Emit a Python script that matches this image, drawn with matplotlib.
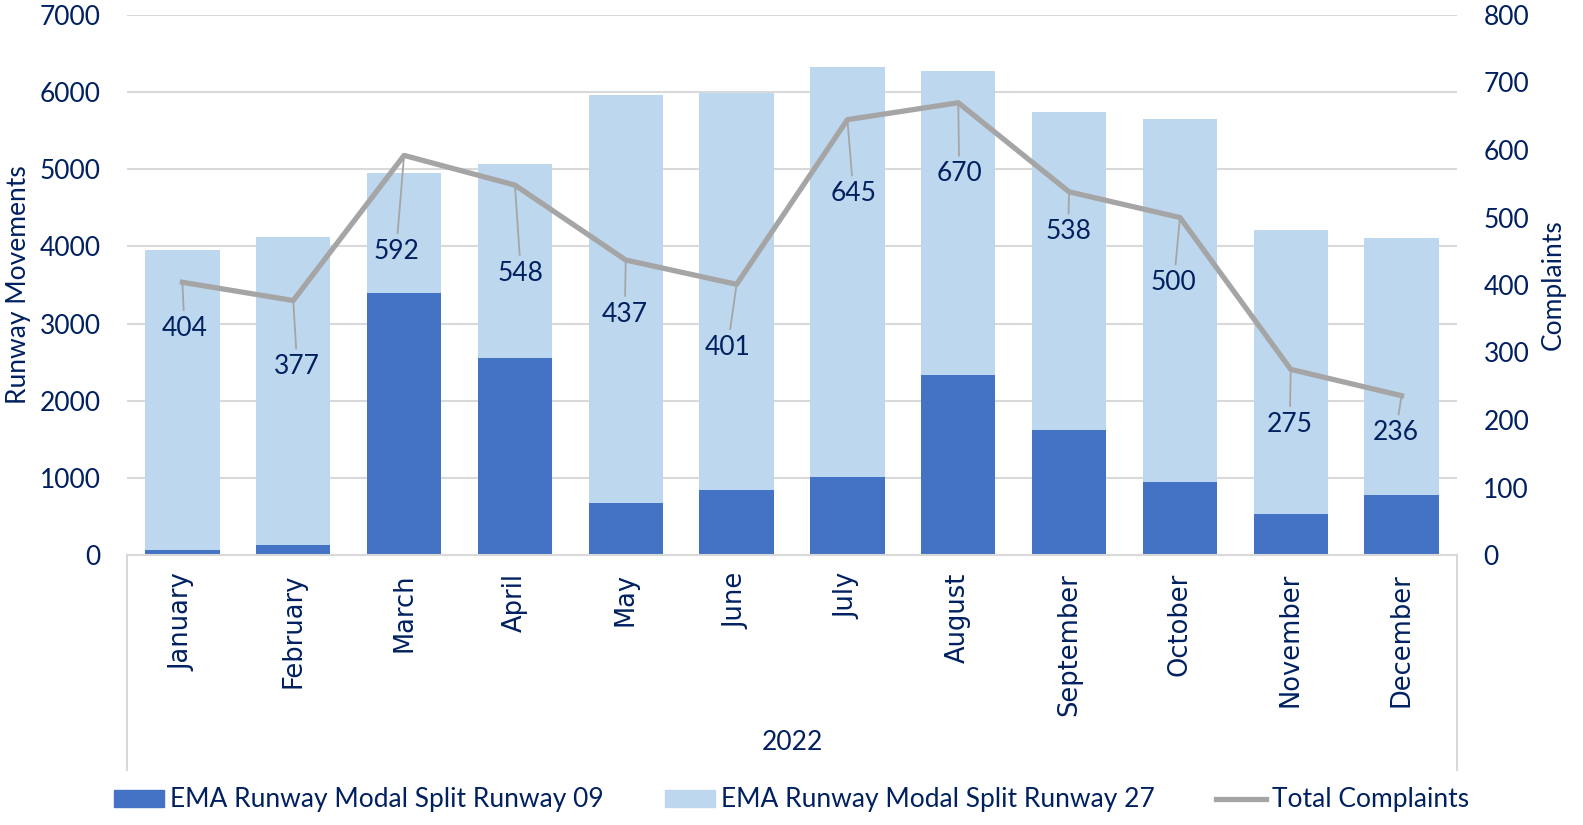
import matplotlib
matplotlib.use("Agg")
import matplotlib.pyplot as plt
import numpy as np
from matplotlib.patches import Patch
from matplotlib.lines import Line2D

# data
months = ["January", "February", "March", "April", "May", "June",
          "July", "August", "September", "October", "November", "December"]
runway_09 = [60, 135, 3395, 2555, 675, 845, 1010, 2335, 1625, 950, 535, 780]
runway_27 = [3895, 3990, 1555, 2510, 5290, 5145, 5315, 3940, 4120, 4705, 3680, 3330]
complaints = [404, 377, 592, 548, 437, 401, 645, 670, 538, 500, 275, 236]
year_label = "2022"

# label placement (pixel offsets below each point)
label_dx = [2, 4, -8, 6, -1, -9, 6, 1, -1, -6, -1, -6]
label_dy = [-46, -66, -96, -88, -54, -63, -74, -71, -40, -65, -55, -37]

DARK = "#4472C4"
LIGHT = "#BDD7EE"
GREY = "#A5A5A5"
NAVY = "#002060"
GRID = "#D9D9D9"
FONT = ["Lato", "DejaVu Sans"]
FS = 19

plt.rcParams["font.family"] = FONT

fig = plt.figure(figsize=(15.83, 8.25), dpi=100)
ax = fig.add_axes([127 / 1583, 1 - 555 / 825, 1330 / 1583, 540 / 825])
x = np.arange(len(months))
width = 0.67

ax.bar(x, runway_09, width, color=DARK, zorder=2)
ax.bar(x, runway_27, width, bottom=runway_09, color=LIGHT, zorder=2)

ax.set_xlim(-0.5, len(months) - 0.5)
ax.set_ylim(0, 7000)
ax.set_yticks(range(0, 7001, 1000))
ax.yaxis.grid(True, color=GRID, linewidth=1.5, zorder=0)
ax.set_axisbelow(True)
for s in ["top", "left", "right"]:
    ax.spines[s].set_visible(False)
ax.spines["bottom"].set_color(GRID)
ax.spines["bottom"].set_linewidth(1.5)
ax.tick_params(axis="y", length=0, pad=19, labelsize=FS, labelcolor=NAVY)
ax.set_xticks(x)
ax.set_xticklabels(months, rotation=90, family="DejaVu Sans", fontsize=18.5, color=NAVY)
ax.tick_params(axis="x", length=0, pad=13)
ax.set_ylabel("Runway Movements", fontsize=FS, color=NAVY, labelpad=6)

# category group box and year label
for xe in (0, 1):
    ax.plot([xe, xe], [0, -215 / 540], transform=ax.transAxes, color=GRID,
            linewidth=1.5, clip_on=False)
ax.text(0.5, -188 / 540, year_label, transform=ax.transAxes, ha="center",
        va="center", fontsize=FS, color=NAVY)

ax2 = ax.twinx()
ax2.plot(x, complaints, color=GREY, linewidth=3.8, zorder=3)
ax2.set_ylim(0, 800)
ax2.set_yticks(range(0, 801, 100))
for s in ax2.spines.values():
    s.set_visible(False)
ax2.tick_params(axis="y", length=0, pad=19, labelsize=FS, labelcolor=NAVY)
ax2.set_ylabel("Complaints", fontsize=FS, color=NAVY, labelpad=8)

for i, v in enumerate(complaints):
    ax2.annotate(str(v), (x[i], v), xytext=(label_dx[i], label_dy[i]),
                 textcoords="offset pixels", ha="center", va="center",
                 fontsize=FS, color=NAVY,
                 arrowprops=dict(arrowstyle="-", color=GREY, lw=1.3,
                                 shrinkA=2, shrinkB=0))

handles = [Patch(color=DARK), Patch(color=LIGHT),
           Line2D([0], [0], color=GREY, linewidth=3.8)]
labels = ["EMA Runway Modal Split Runway 09", "EMA Runway Modal Split Runway 27",
          "Total Complaints"]
fig.legend(handles, labels, loc="center", bbox_to_anchor=(0.5, 1 - 800 / 825),
           ncol=3, frameon=False, fontsize=FS, labelcolor=NAVY,
           handlelength=1.9, handleheight=0.6, handletextpad=0.2,
           columnspacing=2.35)

fig.savefig("out.png", dpi=100)
